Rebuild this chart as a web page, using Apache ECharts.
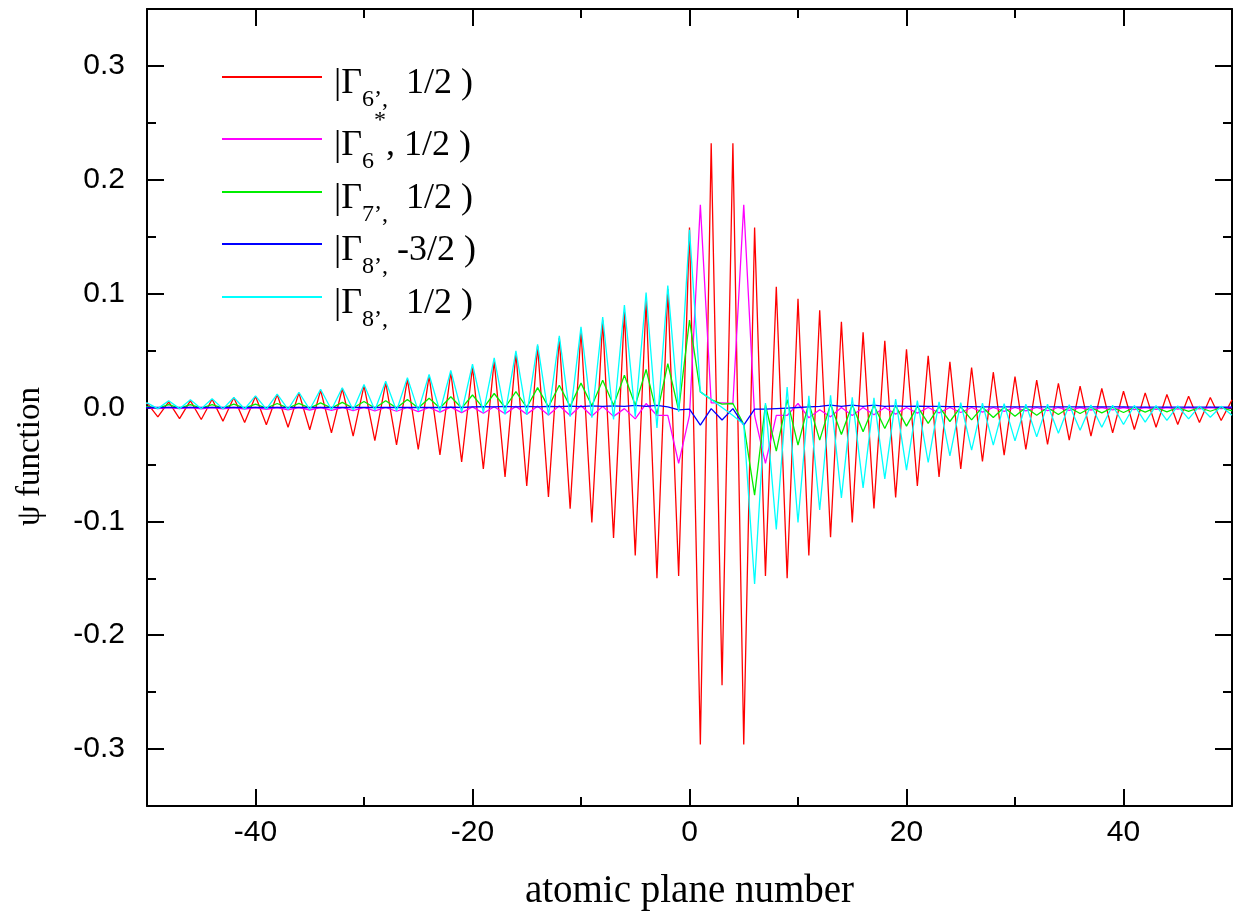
<!DOCTYPE html>
<html><head><meta charset="utf-8">
<script src="https://cdn.jsdelivr.net/npm/echarts@6/dist/echarts.min.js"></script>
<style>html,body{margin:0;padding:0;background:#fff}#c{width:1234px;height:922px}</style>
</head><body><div id="c"></div>
<script>
// atomic plane numbers
const planes = [-51,-50,-49,-48,-47,-46,-45,-44,-43,-42,-41,-40,-39,-38,-37,-36,-35,-34,-33,-32,-31,-30,
-29,-28,-27,-26,-25,-24,-23,-22,-21,-20,-19,-18,-17,-16,-15,-14,-13,-12,-11,-10,
-9,-8,-7,-6,-5,-4,-3,-2,-1,0,1,2,3,4,5,6,7,8,9,10,11,12,13,14,15,16,17,18,19,20,
21,22,23,24,25,26,27,28,29,30,31,32,33,34,35,36,37,38,39,40,41,42,43,44,45,46,47,48,49,50];

const gamma6 = [
-0.007, 0.004,
-0.0082, 0.005, -0.0097, 0.006, -0.0105, 0.0072, -0.012, 0.0088, -0.0132, 0.0099,
-0.0152, 0.0114, -0.0173, 0.0128, -0.0195, 0.015, -0.0223, 0.0167, -0.0252, 0.0192,
-0.029, 0.0218, -0.0329, 0.025, -0.0369, 0.0277, -0.0416, 0.0312, -0.0478, 0.0358,
-0.054, 0.041, -0.061, 0.0478, -0.069, 0.054, -0.0785, 0.061, -0.089, 0.068,
-0.101, 0.0766, -0.1145, 0.084, -0.130, 0.094, -0.150, 0.104, -0.148, 0.158,
-0.296, 0.232, -0.244, 0.232, -0.296, 0.158, -0.148, 0.106, -0.150, 0.0955,
-0.130, 0.0854, -0.114, 0.0752, -0.101, 0.066, -0.0887, 0.0585, -0.079, 0.0512,
-0.069, 0.0453, -0.061, 0.0401, -0.054, 0.0351, -0.0474, 0.031, -0.0419, 0.0272,
-0.0369, 0.024, -0.0325, 0.0213, -0.0287, 0.0187, -0.0252, 0.0167, -0.0223, 0.0143,
-0.0193, 0.0128, -0.0173, 0.0114, -0.0149, 0.0099, -0.0132, 0.0088, -0.0114, 0.0067];

const gamma6s = [
0, 0,
-0.001, 0, -0.001, 0, -0.0012, 0, -0.0013, 0, -0.0015, 0,
-0.0017, 0, -0.002, 0, -0.0022, 0, -0.0025, 0, -0.0028, 0,
-0.003, 0, -0.0033, 0, -0.0037, 0, -0.004, 0.0003, -0.0045, 0.0005,
-0.005, 0.0007, -0.0055, 0.001, -0.006, 0.0012, -0.0065, 0.0015, -0.007, 0.0018,
-0.0075, 0.001, -0.0078, -0.001, -0.010, 0.0035, -0.007, -0.007, -0.049, -0.007,
0.178, 0.004, 0.004, 0.0035, 0.178, -0.007, -0.049, -0.007, -0.007, 0.0035,
-0.009, -0.002, -0.0082, 0, -0.007, 0, -0.0064, 0, -0.0058, 0,
-0.005, 0, -0.0047, 0, -0.0044, 0, -0.004, 0, -0.0035, 0,
-0.003, 0, -0.0028, 0, -0.0025, 0, -0.0022, 0, -0.002, 0,
-0.0018, 0, -0.0016, 0, -0.0014, 0, -0.0012, 0, -0.001, 0];

const gamma7 = [
0, 0.001,
-0.0005, 0.0025, -0.0005, 0.0025, -0.0005, 0.0025, -0.0005, 0.003, -0.0005, 0.003,
-0.0005, 0.0035, -0.0005, 0.0037, -0.0005, 0.004, -0.0005, 0.0045, -0.0005, 0.0053,
-0.0005, 0.006, -0.0005, 0.007, -0.0005, 0.0082, -0.0005, 0.0094, -0.0005, 0.011,
-0.0005, 0.0123, 0, 0.014, 0, 0.0175, 0.0005, 0.0195, 0.001, 0.0214,
0.0015, 0.024, 0.002, 0.0284, 0.002, 0.0334, -0.006, 0.0386, -0.0024, 0.0767,
0.0137, 0.007, 0.003, 0.0035, -0.0147, -0.077, 0.0024, -0.0384, 0.007, -0.033,
0.004, -0.0287, 0.003, -0.0237, 0.0025, -0.0214, 0.002, -0.0184, 0.0015, -0.0164,
0.001, -0.014, 0.0008, -0.0123, 0.0005, -0.0109, 0.0003, -0.0088, 0.0002, -0.0076,
0, -0.0068, 0, -0.0061, 0, -0.0053, 0, -0.0047, 0, -0.0044,
0, -0.004, 0, -0.0038, 0, -0.0035, 0, -0.0033, 0, -0.003];

const gamma8m = [
0, 0,
0, 0, 0, 0, 0, 0, 0, 0, 0, 0,
0, 0, 0, 0, 0, 0, 0, 0, 0, 0,
0, 0, 0, 0, 0, 0, 0, 0.0003, 0, 0.0005,
0.0008, 0.0005, 0.001, 0.0005, 0.001, 0.0005, 0.001, 0.0008, 0.0012, 0.0008,
0.0015, 0.001, 0.0015, 0.001, 0.0018, 0.001, 0.0018, 0.0005, -0.002, -0.0015,
-0.0155, -0.001, -0.011, -0.001, -0.0155, -0.0015, -0.0015, -0.001, -0.0005, 0,
0.0005, 0.001, 0.002, 0.001, 0.002, 0.001, 0.002, 0.001, 0.0015, 0.001,
0.0012, 0.001, 0.001, 0.0008, 0.0008, 0.0007, 0.0006, 0.0005, 0.0005, 0.0005,
0.0005, 0.0005, 0.0005, 0.0005, 0.0005, 0.0005, 0.0005, 0.0005, 0.0005, 0.0005,
0.0003, 0.0003, 0.0003, 0.0003, 0.0003, 0.0003, 0.0003, 0.0003, 0.0003, 0.0003];

const gamma8h = [
-0.001, 0.004,
-0.001, 0.0059, -0.001, 0.0068, -0.001, 0.0076, -0.0012, 0.0088, -0.0013, 0.0102,
-0.0015, 0.0117, -0.0016, 0.0134, -0.0018, 0.016, -0.002, 0.0174, -0.0022, 0.0203,
-0.0024, 0.023, -0.0028, 0.0262, -0.003, 0.029, -0.0035, 0.0325, -0.004, 0.038,
-0.0045, 0.0435, -0.006, 0.0497, -0.0065, 0.0555, -0.007, 0.0629, -0.008, 0.0708,
-0.009, 0.0795, -0.0105, 0.090, -0.008, 0.101, -0.018, 0.107, -0.004, 0.156,
0.0137, 0.007, 0.0, -0.007, -0.0147, -0.155, 0.004, -0.107, 0.018, -0.101,
0.0102, -0.090, 0.0108, -0.0794, 0.009, -0.0706, 0.0084, -0.0627, 0.0073, -0.055,
0.0061, -0.0483, 0.005, -0.0425, 0.0042, -0.0375, 0.0038, -0.0331, 0.0034, -0.0293,
0.003, -0.0258, 0.0028, -0.0226, 0.0025, -0.0199, 0.0022, -0.0173, 0.002, -0.0149,
0.0018, -0.0129, 0.0016, -0.0114, 0.0014, -0.01, 0.0012, -0.0085, 0.001, -0.0068];

const xMajorTicks = [-40, -20, 0, 20, 40];
const xMinorTicks = [-30, -10, 10, 30];
const yMajorTicks = [-0.3, -0.2, -0.1, 0, 0.1, 0.2, 0.3];
const yMinorTicks = [-0.25, -0.15, -0.05, 0.05, 0.15, 0.25];

const seriesNames = ['G6', 'G6s', 'G7', 'G8m', 'G8h'];
const seriesColors = ['#ff0000', '#ff00ff', '#00ee00', '#0000ff', '#00ffff'];
const seriesValues = [gamma6, gamma6s, gamma7, gamma8m, gamma8h];
const legendTexts = [
  '{f||Γ}{s|6’,}{m|  1/2 )}',
  '{f||Γ}{s|6}{p|*}{m|, 1/2 )}',
  '{f||Γ}{s|7’,}{m|  1/2 )}',
  '{f||Γ}{s|8’,}{m| -3/2 )}',
  '{f||Γ}{s|8’,}{m|  1/2 )}'
];
const legendTops = [42, 104, 157, 209, 262];

const serif = 'Liberation Serif';
const sans = 'Liberation Sans';
const rich = {
  f: {fontFamily: serif, fontSize: 36, color: '#000', lineHeight: 40, padding: [14, 0, 0, 7]},
  m: {fontFamily: serif, fontSize: 36, color: '#000', lineHeight: 40, padding: [14, 0, 0, 0]},
  s: {fontFamily: serif, fontSize: 24, color: '#000', lineHeight: 26, padding: [46, 0, 0, 0]},
  p: {fontFamily: serif, fontSize: 24, color: '#000', lineHeight: 26, padding: [0, 0, 36, 0]}
};

const chart = echarts.init(document.getElementById('c'));
const gridPos = {left: 147, right: 2, top: 9, bottom: 116};
const axisLineStyle = {color: '#000', width: 2};

function xAx(gridIndex, position, ticks, len, showLine, showLabel, extra) {
  return Object.assign({
    type: 'value', gridIndex, position, min: -50, max: 50,
    axisLine: {show: showLine, onZero: false, lineStyle: axisLineStyle},
    axisTick: {show: true, inside: true, length: len, customValues: ticks, lineStyle: {color: '#000', width: 2}},
    axisLabel: showLabel ? {show: true, customValues: ticks, fontFamily: sans, fontSize: 30, color: '#000', margin: 12} : {show: false},
    splitLine: {show: false}
  }, extra || {});
}
function yAx(gridIndex, position, ticks, len, showLine, showLabel, extra) {
  return Object.assign({
    type: 'value', gridIndex, position, min: -0.35, max: 0.35,
    axisLine: {show: showLine, onZero: false, lineStyle: axisLineStyle},
    axisTick: {show: true, inside: true, length: len, customValues: ticks, lineStyle: {color: '#000', width: 2}},
    axisLabel: showLabel ? {show: true, customValues: ticks, fontFamily: sans, fontSize: 30, color: '#000', margin: 22,
      formatter: v => (Math.abs(v) < 1e-9 ? 0 : v).toFixed(1)} : {show: false},
    splitLine: {show: false}
  }, extra || {});
}

const option = {
  animation: false,
  backgroundColor: '#fff',
  grid: [Object.assign({}, gridPos), Object.assign({}, gridPos)],
  xAxis: [
    xAx(0, 'bottom', xMajorTicks, 17, true, true, {
      name: 'atomic plane number', nameLocation: 'middle', nameGap: 66,
      nameTextStyle: {fontFamily: serif, fontSize: 39, color: '#000'}
    }),
    xAx(0, 'top', xMajorTicks, 17, true, false),
    xAx(1, 'bottom', xMinorTicks, 9, false, false),
    xAx(1, 'top', xMinorTicks, 9, false, false)
  ],
  yAxis: [
    yAx(0, 'left', yMajorTicks, 17, true, true, {
      name: 'ψ function', nameLocation: 'middle', nameGap: 100,
      nameTextStyle: {fontFamily: serif, fontSize: 33, color: '#000', padding: [0, 98, 0, 0]}
    }),
    yAx(0, 'right', yMajorTicks, 17, true, false),
    yAx(1, 'left', yMinorTicks, 9, false, false),
    yAx(1, 'right', yMinorTicks, 9, false, false)
  ],
  legend: seriesNames.map((n, i) => ({
    data: [n], left: 222, top: legendTops[i], orient: 'vertical', padding: 0,
    itemWidth: 100, itemHeight: 2, icon: 'rect', selectedMode: false,
    formatter: () => legendTexts[i],
    textStyle: {rich}
  })),
  series: seriesNames.map((n, i) => ({
    name: n, type: 'line', xAxisIndex: 0, yAxisIndex: 0,
    data: planes.map((p, k) => [p, seriesValues[i][k]]),
    showSymbol: false, symbol: 'none', clip: false,
    lineStyle: {color: seriesColors[i], width: 1.3},
    itemStyle: {color: seriesColors[i]},
    emphasis: {disabled: true}
  }))
};
chart.setOption(option);
</script></body></html>
